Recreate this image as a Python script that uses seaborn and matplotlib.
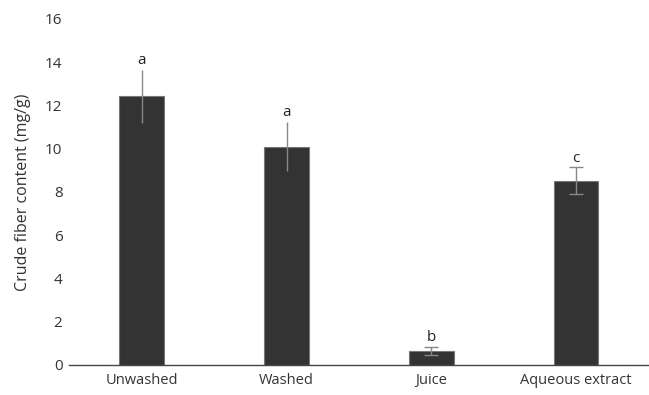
import numpy as np
import pandas as pd
import matplotlib
matplotlib.use("Agg")
import matplotlib.pyplot as plt
import seaborn as sns

# values
samples = ["Unwashed", "Washed", "Juice", "Aqueous extract"]
fiber = [12.42, 10.10, 0.66, 8.53]
sd = [1.23, 1.15, 0.19, 0.62]
letters = ["a", "a", "b", "c"]
show_cap = [False, False, True, True]

df = pd.DataFrame({"sample": samples, "fiber": fiber})

sns.set_style("white")
plt.rcParams["font.family"] = ["Open Sans", "DejaVu Sans"]

fig = plt.figure(figsize=(6.49, 3.95), dpi=100)
ax = fig.add_axes([0.107, 0.076, 0.892, 0.876])

sns.barplot(data=df, x="sample", y="fiber", color="#333333", width=0.31,
            errorbar=None, edgecolor="#777777", linewidth=0.8, saturation=1, ax=ax)

x = np.arange(len(samples))
for i in range(len(samples)):
    ax.errorbar(x[i], fiber[i], yerr=sd[i], fmt="none", ecolor="#888888",
                elinewidth=1.0, capsize=5 if show_cap[i] else 0, capthick=1.0, zorder=3)
    ax.text(x[i], fiber[i] + sd[i] + 0.42, letters[i], ha="center", va="center",
            fontsize=11, color="#222222")

ax.set_xlim(-0.5, 3.5)
ax.set_ylim(0, 16)
ax.set_yticks(range(0, 17, 2))
ax.set_xlabel("")
ax.set_ylabel("Crude fiber content (mg/g)", fontsize=11.5, color="#333333", labelpad=10)

for s in ["top", "right", "left"]:
    ax.spines[s].set_visible(False)
ax.spines["bottom"].set_color("#444444")
ax.spines["bottom"].set_linewidth(1.0)

ax.tick_params(axis="y", length=0, labelsize=11, labelcolor="#333333", pad=5)
ax.tick_params(axis="x", which="major", length=0, labelsize=10.5, labelcolor="#333333", pad=6)
ax.set_xticks(np.arange(-0.5, 4, 1), minor=True)
ax.tick_params(axis="x", which="minor", length=5, width=1.0, color="#444444", direction="out")

fig.savefig("out.png", dpi=100)
